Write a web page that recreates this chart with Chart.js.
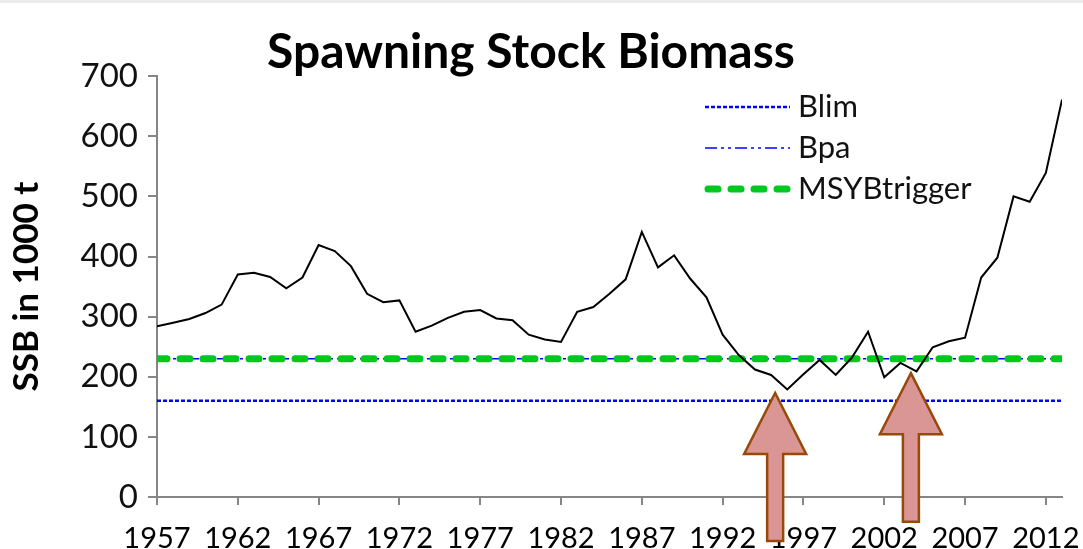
<!DOCTYPE html>
<html>
<head>
<meta charset="utf-8">
<script src="https://cdn.jsdelivr.net/npm/chart.js@4.4.1/dist/chart.umd.min.js"></script>
<style>
  html, body { margin: 0; padding: 0; background: #fff; }
  #wrap { position: relative; width: 1083px; height: 549px; }
  #topline { position: absolute; left: 0; top: 0; width: 1083px; height: 3px; background: #ececec; }
</style>
</head>
<body>
<div id="wrap">
  <canvas id="chart" width="1083" height="549"></canvas>
  <div id="topline"></div>
</div>
<script>
// years on the x axis
const years = [1957, 1958, 1959, 1960, 1961, 1962, 1963, 1964, 1965, 1966,
  1967, 1968, 1969, 1970, 1971, 1972, 1973, 1974, 1975, 1976,
  1977, 1978, 1979, 1980, 1981, 1982, 1983, 1984, 1985, 1986,
  1987, 1988, 1989, 1990, 1991, 1992, 1993, 1994, 1995, 1996,
  1997, 1998, 1999, 2000, 2001, 2002, 2003, 2004, 2005, 2006,
  2007, 2008, 2009, 2010, 2011, 2012, 2013];
// SSB in 1000 t
const ssb = [284, 290, 296, 306, 320, 370, 373, 366, 347, 365,
  419, 409, 384, 338, 324, 327, 275, 285, 298, 308,
  311, 297, 294, 270, 262, 258, 308, 316, 338, 362,
  441, 382, 402, 363, 332, 270, 236, 212, 203, 179,
  204, 228, 203, 232, 275, 199, 223, 209, 249, 259,
  265, 365, 398, 500, 491, 539, 661];
const xTicks = [1957, 1962, 1967, 1972, 1977, 1982, 1987, 1992, 1997, 2002, 2007, 2012];
const refYears = [1957, 2013];
const blim = [160, 160];
const bpa = [230, 230];
const msyBtrigger = [230, 230];
// arrows: year, tip value, bottom value
const arrowYears = [1995.25, 2003.65];
const arrowTips = [173, 206];
const arrowBottoms = [-73, -41];

const toPts = (xs, ys) => xs.map((x, i) => ({ x: x, y: ys[i] }));

const FONT = "Lato, 'Open Sans', sans-serif";

// legend drawn in the top right
const legendPlugin = {
  id: 'refLegend',
  afterDraw(chart) {
    const ctx = chart.ctx;
    ctx.save();
    [0, 1, 2].forEach(i => {
      const ds = chart.data.datasets[i];
      const y = 107 + i * 41;
      ctx.beginPath();
      ctx.setLineDash(ds.borderDash || []);
      ctx.lineWidth = ds.borderWidth;
      ctx.strokeStyle = ds.borderColor;
      ctx.lineCap = ds.borderCapStyle || 'butt';
      const x0 = ds.borderCapStyle === 'round' ? 708 : 705;
      ctx.moveTo(x0, y);
      ctx.lineTo(790, y);
      ctx.stroke();
      ctx.setLineDash([]);
      ctx.fillStyle = '#111';
      ctx.font = '31px ' + FONT;
      ctx.textBaseline = 'middle';
      ctx.fillText(ds.label, 798, y);
    });
    ctx.restore();
  }
};

// up arrows drawn over the chart
const arrowPlugin = {
  id: 'arrows',
  afterDraw(chart) {
    const ctx = chart.ctx;
    const xs = chart.scales.x, ys = chart.scales.y;
    ctx.save();
    arrowYears.forEach((yr, i) => {
      const cx = xs.getPixelForValue(yr);
      const tip = ys.getPixelForValue(arrowTips[i]);
      const bot = ys.getPixelForValue(arrowBottoms[i]);
      const head = tip + 61;
      ctx.beginPath();
      ctx.moveTo(cx, tip);
      ctx.lineTo(cx + 31, head);
      ctx.lineTo(cx + 8, head);
      ctx.lineTo(cx + 8, bot);
      ctx.lineTo(cx - 8, bot);
      ctx.lineTo(cx - 8, head);
      ctx.lineTo(cx - 31, head);
      ctx.closePath();
      ctx.fillStyle = '#d99694';
      ctx.fill();
      ctx.lineWidth = 2.5;
      ctx.strokeStyle = '#984807';
      ctx.stroke();
    });
    ctx.restore();
  }
};

new Chart(document.getElementById('chart'), {
  type: 'line',
  data: {
    datasets: [
      {
        label: 'Blim',
        data: toPts(refYears, blim),
        borderColor: '#0000ff',
        borderWidth: 2.5,
        borderDash: [4, 2],
        pointRadius: 0,
        order: 4
      },
      {
        label: 'Bpa',
        data: toPts(refYears, bpa),
        borderColor: '#0000ff',
        borderWidth: 1.5,
        borderDash: [12, 4, 3, 4, 3, 4],
        pointRadius: 0,
        order: 3
      },
      {
        label: 'MSYBtrigger',
        data: toPts(refYears, msyBtrigger),
        borderColor: '#00c81e',
        borderWidth: 7,
        borderDash: [10, 13],
        borderCapStyle: 'round',
        pointRadius: 0,
        order: 2
      },
      {
        label: 'SSB',
        data: toPts(years, ssb),
        borderColor: '#000',
        borderWidth: 2,
        pointRadius: 0,
        tension: 0,
        order: 1
      }
    ]
  },
  options: {
    responsive: false,
    animation: false,
    layout: { padding: { left: 0, right: 21, top: 0, bottom: 0 } },
    plugins: {
      legend: { display: false },
      tooltip: { enabled: false },
      title: {
        display: true,
        text: 'Spawning Stock Biomass',
        color: '#000',
        font: { family: FONT, size: 48, weight: 'bold', lineHeight: 0.92 },
        padding: { top: 30, bottom: 2 }
      }
    },
    scales: {
      x: {
        type: 'linear',
        min: 1957,
        max: 2013,
        afterBuildTicks: axis => { axis.ticks = xTicks.map(v => ({ value: v })); },
        afterFit: s => { s.height = 52; s.paddingLeft = 0; s.paddingRight = 0; },
        grid: { drawOnChartArea: false, drawTicks: true, tickLength: 8, color: '#868686', lineWidth: 2 },
        border: { color: '#868686', width: 2 },
        ticks: {
          autoSkip: false,
          maxRotation: 0,
          padding: 16,
          color: '#000',
          font: { family: FONT, size: 29 },
          callback: v => String(v)
        }
      },
      y: {
        min: 0,
        max: 700,
        afterFit: s => { s.width = 157; },
        grid: { drawOnChartArea: false, drawTicks: true, tickLength: 9, color: '#868686', lineWidth: 2 },
        border: { color: '#868686', width: 2 },
        ticks: {
          stepSize: 100,
          padding: 10,
          color: '#111',
          font: { family: FONT, size: 33 }
        },
        title: {
          display: true,
          text: 'SSB in 1000 t',
          color: '#000',
          font: { family: FONT, size: 35, weight: 'bold' },
          padding: { top: 6, bottom: 0 }
        }
      }
    }
  },
  plugins: [legendPlugin, arrowPlugin]
});
</script>
</body>
</html>
